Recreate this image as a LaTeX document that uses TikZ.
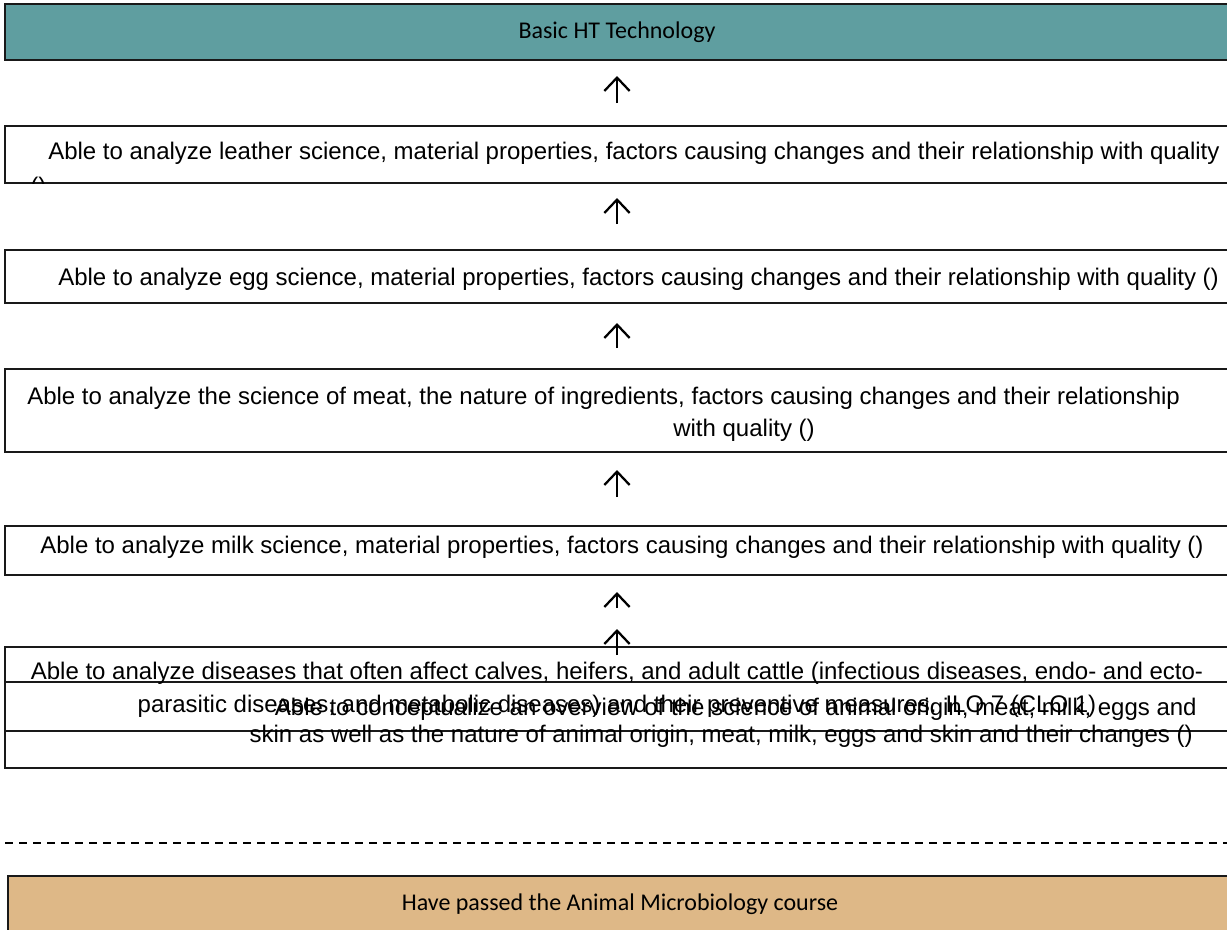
\documentclass[tikz,border=0pt]{standalone}
\usepackage{fontspec}
\setmainfont{Liberation Sans}
\newfontfamily\calibrifont{Carlito}
\usetikzlibrary{arrows.meta}
\definecolor{cadetblue}{RGB}{95,158,160}
\definecolor{burlywood}{RGB}{222,184,135}
\newdimen\px
\px=0.75pt
\begin{document}
\begin{tikzpicture}[x=0.75pt, y=-0.75pt,
	box/.style={draw=black!90, line width=1.5pt, rectangle, inner sep=0, outer sep=0, anchor=north west, minimum width=1224\px},
	outcome/.style={font=\fontsize{18}{21}\selectfont, inner sep=0},
	course/.style={font=\calibrifont\fontsize{18}{21}\selectfont},
	up arrow/.style={line width=1.7pt, -{Straight Barb[length=10pt, width=19pt, line width=1.7pt]}}]
	\useasboundingbox (0,0) rectangle (1227,929);
	
	% Target course and prerequisite
	\node (box basic) at (5,4) [box, fill=cadetblue, minimum height=56\px, course] {Basic HT Technology};
	\node (box passed) at (8,876) [box, fill=burlywood, minimum height=56\px, course] {Have passed the Animal Microbiology course};
	
	% Outcome boxes
	\foreach \name/\top/\h in {leather/126/57, egg/250/53, meat/369/83, milk/526/49, diseases/647/84, concept/682/86}{
		\node (box \name) at (5,\top) [box, minimum height=\h\px] {};
	}
	
	% Outcome texts
	\node (text leather) at (48,159) [outcome, anchor=base west] {Able to analyze leather science, material properties, factors causing changes and their relationship with quality};
	\begin{scope}
		\clip (box leather.north west) rectangle (box leather.south east);
		\node (text leather end) at (30,194) [outcome, anchor=base west] {()};
	\end{scope}
	\node (text egg) at (58,285) [outcome, anchor=base west] {Able to analyze egg science, material properties, factors causing changes and their relationship with quality ()};
	\node (text meat 1) at (27,404) [outcome, anchor=base west] {Able to analyze the science of meat, the nature of ingredients, factors causing changes and their relationship};
	\node (text meat 2) at (744,436) [outcome, anchor=base] {with quality ()};
	\node (text milk) at (622,553) [outcome, anchor=base] {Able to analyze milk science, material properties, factors causing changes and their relationship with quality ()};
	\node (text diseases 1) at (617,679) [outcome, anchor=base] {Able to analyze diseases that often affect calves, heifers, and adult cattle (infectious diseases, endo- and ecto-};
	\node (text diseases 2) at (617,712) [outcome, anchor=base] {parasitic diseases, and metabolic diseases) and their preventive measures. ILO 7 (CLO 1)};
	\node (text concept 1) at (1197,715) [outcome, anchor=base east] {Able to conceptualize an overview of the science of animal origin, meat, milk, eggs and};
	\node (text concept 2) at (1193,742) [outcome, anchor=base east] {skin as well as the nature of animal origin, meat, milk, eggs and skin and their changes ()};
	
	% Arrows between levels
	\foreach \from/\to/\a/\b in {leather/basic/23/16, egg/leather/26/15, meat/egg/21/20, milk/meat/29/18, diseases/milk/39/17, concept/milk/27/54}{
		\draw [up arrow, shorten <=\a\px, shorten >=\b\px] (box \from.north) -- (box \to.south);
	}
	
	% Separator
	\coordinate (sep left) at (5,843);
	\coordinate (sep right) at (1227,843);
	\draw [line width=2.2pt, dash pattern=on 6pt off 4.5pt] (sep left) -- (sep right);
	
\end{tikzpicture}
\end{document}
